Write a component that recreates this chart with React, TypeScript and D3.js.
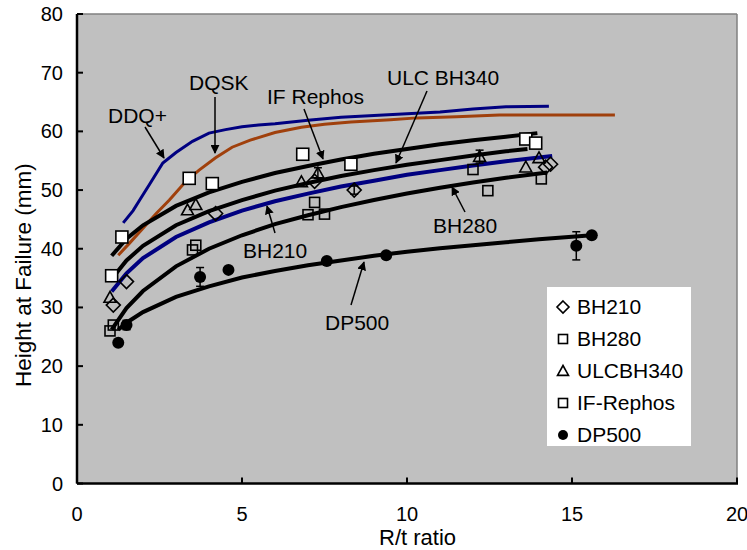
import React from 'react';
import * as d3 from 'd3';

// ---------- data ----------
const xTicks = [0, 5, 10, 15, 20];
const yTicks = [0, 10, 20, 30, 40, 50, 60, 70, 80];

const ddqPlusCurve: [number, number][] = [
  [1.4, 44.4], [1.7, 46.5], [1.9, 48.3], [2.2, 51.0], [2.6, 54.6], [3.0, 56.4], [3.5, 58.3],
  [4.0, 59.7], [4.5, 60.3], [5.0, 60.8], [5.5, 61.1], [6.0, 61.3], [7.0, 61.9], [8.0, 62.4],
  [9.0, 62.7], [10.0, 63.0], [11.0, 63.3], [12.0, 63.8], [13.0, 64.2], [14.3, 64.3],
];
const dqskCurve: [number, number][] = [
  [1.25, 38.9], [1.6, 41.0], [2.0, 43.5], [2.4, 46.0], [2.8, 48.3], [3.3, 51.5], [3.7, 53.4],
  [4.2, 55.5], [4.7, 57.3], [5.25, 58.5], [6.0, 59.8], [6.8, 60.7], [7.5, 61.2], [8.3, 61.6],
  [9.5, 62.0], [10.3, 62.3], [11.5, 62.5], [12.8, 62.8], [14.0, 62.8], [16.3, 62.8],
];

// trend curves
const ifRephosTrend: [number, number][] = [
  [1.05, 38.8], [1.5, 41.7], [2, 44.0], [3, 47.3], [4, 49.6], [5, 51.4], [6, 52.9], [7, 54.1],
  [8, 55.2], [9, 56.2], [10, 57.0], [11, 57.8], [12, 58.5], [13, 59.1], [13.95, 59.7],
];
const ulcTrend: [number, number][] = [
  [1.0, 34.5], [1.5, 38.0], [2, 40.5], [3, 44.0], [4, 46.4], [5, 48.3], [6, 49.9], [7, 51.2],
  [8, 52.4], [9, 53.4], [10, 54.3], [11, 55.1], [12, 55.9], [13, 56.6], [13.65, 57.0],
];
const bh210Trend: [number, number][] = [
  [1.05, 32.7], [1.5, 35.8], [2, 38.4], [3, 42.0], [4, 44.5], [5, 46.5], [6, 48.1], [7, 49.4],
  [8, 50.6], [9, 51.6], [10, 52.6], [11, 53.4], [12, 54.2], [13, 54.9], [14.4, 55.8],
];
const bh280Trend: [number, number][] = [
  [1.05, 26.2], [1.5, 29.9], [2, 32.8], [3, 37.0], [4, 40.0], [5, 42.3], [6, 44.2], [7, 45.7],
  [8, 47.1], [9, 48.3], [10, 49.4], [11, 50.4], [12, 51.3], [13, 52.1], [14.25, 53.0],
];
const dp500Trend: [number, number][] = [
  [1.25, 26.2], [1.5, 27.4], [2, 29.2], [3, 31.8], [4, 33.6], [5, 35.1], [6, 36.2], [7, 37.2],
  [8, 38.0], [9, 38.8], [10, 39.5], [11, 40.1], [12, 40.6], [13, 41.1], [14, 41.6], [15.6, 42.3],
];

// measured points
const bh210Pts: [number, number][] = [[1.1, 30.4], [1.5, 34.4], [4.2, 46.0], [7.2, 51.5], [8.4, 50.0], [14.2, 53.9], [14.35, 54.4]];
const bh280Pts: [number, number][] = [[1.0, 26.0], [1.1, 27.0], [3.5, 39.8], [3.6, 40.6], [7.0, 45.8], [7.2, 47.9], [7.5, 45.9], [12.0, 53.5], [12.45, 49.9], [14.07, 51.9]];
const ulcPts: [number, number][] = [[1.0, 31.7], [3.35, 46.6], [3.6, 47.5], [6.8, 51.4], [7.3, 52.9], [12.2, 55.7], [13.6, 53.9], [14.0, 55.5]];
const ifRephosPts: [number, number][] = [[1.05, 35.4], [1.36, 42.0], [3.4, 52.0], [4.1, 51.1], [6.84, 56.1], [8.3, 54.4], [13.6, 58.7], [13.9, 58.0]];
const dp500Pts: [number, number][] = [[1.25, 24.0], [1.5, 27.0], [3.73, 35.2], [4.59, 36.4], [7.57, 37.9], [9.37, 38.9], [15.13, 40.5], [15.6, 42.3]];

// error bars: x, y, half-range
const errorBars: [number, number, number][] = [
  [1.5, 27.0, 0.8], [3.73, 35.2, 1.6], [15.13, 40.5, 2.4], [7.3, 52.9, 0.9], [12.2, 55.7, 1.1], [8.4, 50.0, 0.7],
];

const legendLabels = ['BH210', 'BH280', 'ULCBH340', 'IF-Rephos', 'DP500'];

// ---------- layout ----------
const W = 747, H = 550;
const L = 77, R = 737, T = 14, B = 483.5;
const FONT = '"Liberation Sans", Arial, Helvetica, sans-serif';
const NAVY = '#000080';
const BROWN = '#A0400C';

const annotations = [
  { text: 'DDQ+', tx: 108, ty: 123, from: [145, 127], to: [164, 158] },
  { text: 'DQSK', tx: 189, ty: 90, from: [215, 97], to: [215, 153] },
  { text: 'IF Rephos', tx: 267, ty: 104, from: [304, 109], to: [323, 159] },
  { text: 'ULC BH340', tx: 387, ty: 85, from: [427, 91], to: [396, 163] },
  { text: 'BH210', tx: 243, ty: 258, from: [275, 233], to: [267, 206] },
  { text: 'BH280', tx: 433, ty: 233, from: [465, 212], to: [452, 187] },
  { text: 'DP500', tx: 325, ty: 330, from: [351, 305], to: [364, 262] },
];

const x = d3.scaleLinear().domain([0, 20]).range([L, R]);
const y = d3.scaleLinear().domain([0, 80]).range([B, T]);
const line = d3.line<[number, number]>().x(d => x(d[0])).y(d => y(d[1]));

function Diamond({ cx, cy, s }: { cx: number; cy: number; s: number }) {
  return <path d={`M${cx},${cy - s}L${cx + s},${cy}L${cx},${cy + s}L${cx - s},${cy}Z`} fill="none" stroke="#000" strokeWidth={1.6} />;
}
function Triangle({ cx, cy, s }: { cx: number; cy: number; s: number }) {
  return <path d={`M${cx},${cy - s}L${cx + s},${cy + s * 0.8}L${cx - s},${cy + s * 0.8}Z`} fill="none" stroke="#000" strokeWidth={1.6} />;
}

export default function App() {
  return (
    <div style={{ position: 'fixed', left: 0, top: 0 }}>
      <svg width={W} height={H} style={{ display: 'block', background: '#fff' }} fontFamily={FONT}>
        <defs>
          <marker id="ah" viewBox="0 0 10 10" refX="9" refY="5" markerWidth="9" markerHeight="9" markerUnits="userSpaceOnUse" orient="auto">
            <path d="M0,0L10,5L0,10Z" fill="#000" />
          </marker>
        </defs>
        {/* plot area */}
        <rect x={L} y={T} width={R - L} height={B - T} fill="#C0C0C0" />
        <line x1={L} x2={R} y1={T} y2={T} stroke="#808080" strokeWidth={1.5} />
        <line x1={R} x2={R} y1={T} y2={B} stroke="#808080" strokeWidth={1.5} />

        {/* curves */}
        <path d={line(ddqPlusCurve)!} fill="none" stroke={NAVY} strokeWidth={3} />
        <path d={line(dqskCurve)!} fill="none" stroke={BROWN} strokeWidth={3} />
        <path d={line(ifRephosTrend)!} fill="none" stroke="#000" strokeWidth={4} />
        <path d={line(ulcTrend)!} fill="none" stroke="#000" strokeWidth={4} />
        <path d={line(bh280Trend)!} fill="none" stroke="#000" strokeWidth={4} />
        <path d={line(dp500Trend)!} fill="none" stroke="#000" strokeWidth={4} />
        <path d={line(bh210Trend)!} fill="none" stroke={NAVY} strokeWidth={4} />

        {/* error bars */}
        {errorBars.map(([ex, ey, e], i) => (
          <g key={'e' + i} stroke="#000" strokeWidth={1.5}>
            <line x1={x(ex)} x2={x(ex)} y1={y(ey - e)} y2={y(ey + e)} />
            <line x1={x(ex) - 4} x2={x(ex) + 4} y1={y(ey - e)} y2={y(ey - e)} />
            <line x1={x(ex) - 4} x2={x(ex) + 4} y1={y(ey + e)} y2={y(ey + e)} />
          </g>
        ))}

        {/* points */}
        {bh210Pts.map((d, i) => <Diamond key={'d' + i} cx={x(d[0])} cy={y(d[1])} s={7} />)}
        {bh280Pts.map((d, i) => (
          <rect key={'s' + i} x={x(d[0]) - 5} y={y(d[1]) - 5} width={10} height={10} fill="none" stroke="#000" strokeWidth={1.6} />
        ))}
        {ulcPts.map((d, i) => <Triangle key={'t' + i} cx={x(d[0])} cy={y(d[1])} s={6} />)}
        {ifRephosPts.map((d, i) => (
          <rect key={'w' + i} x={x(d[0]) - 6} y={y(d[1]) - 6} width={12} height={12} fill="#fff" stroke="#000" strokeWidth={1.6} />
        ))}
        {dp500Pts.map((d, i) => <circle key={'c' + i} cx={x(d[0])} cy={y(d[1])} r={6} fill="#000" />)}

        {/* annotations */}
        {annotations.map((a, i) => (
          <g key={'a' + i}>
            <text x={a.tx} y={a.ty} fontSize={21} fill="#000">{a.text}</text>
            <line x1={a.from[0]} y1={a.from[1]} x2={a.to[0]} y2={a.to[1]} stroke="#000" strokeWidth={1.5} markerEnd="url(#ah)" />
          </g>
        ))}

        {/* axes */}
        <line x1={L} x2={L} y1={T} y2={B} stroke="#000" strokeWidth={2.5} />
        <line x1={L} x2={R + 1} y1={B} y2={B} stroke="#000" strokeWidth={2.5} />
        {yTicks.map(t => (
          <g key={'yt' + t}>
            <line x1={L} x2={L + 6} y1={y(t)} y2={y(t)} stroke="#000" strokeWidth={2} />
            <text x={63} y={y(t)} dy="0.35em" textAnchor="end" fontSize={20}>{t}</text>
          </g>
        ))}
        {xTicks.map(t => (
          <g key={'xt' + t}>
            <line x1={x(t)} x2={x(t)} y1={B} y2={B - 6} stroke="#000" strokeWidth={2} />
            <text x={x(t)} y={521} textAnchor="middle" fontSize={20}>{t}</text>
          </g>
        ))}
        <text x={379} y={545} fontSize={22}>R/t ratio</text>
        <text transform={`translate(31,387) rotate(-90)`} fontSize={22.5}>Height at Failure (mm)</text>

        {/* legend */}
        <rect x={547} y={287} width={144} height={159} fill="#fff" />
        {legendLabels.map((lab, i) => {
          const cy = 307 + i * 32;
          const cx = 563;
          let sym;
          if (i === 0) sym = <Diamond cx={cx} cy={cy} s={6} />;
          else if (i === 1 || i === 3) sym = <rect x={cx - 4.5} y={cy - 4.5} width={9} height={9} fill="none" stroke="#000" strokeWidth={1.6} />;
          else if (i === 2) sym = <Triangle cx={cx} cy={cy} s={5.5} />;
          else sym = <circle cx={cx} cy={cy} r={5} fill="#000" />;
          return (
            <g key={'l' + i}>
              {sym}
              <text x={577} y={cy} dy="0.35em" fontSize={21}>{lab}</text>
            </g>
          );
        })}
      </svg>
    </div>
  );
}
